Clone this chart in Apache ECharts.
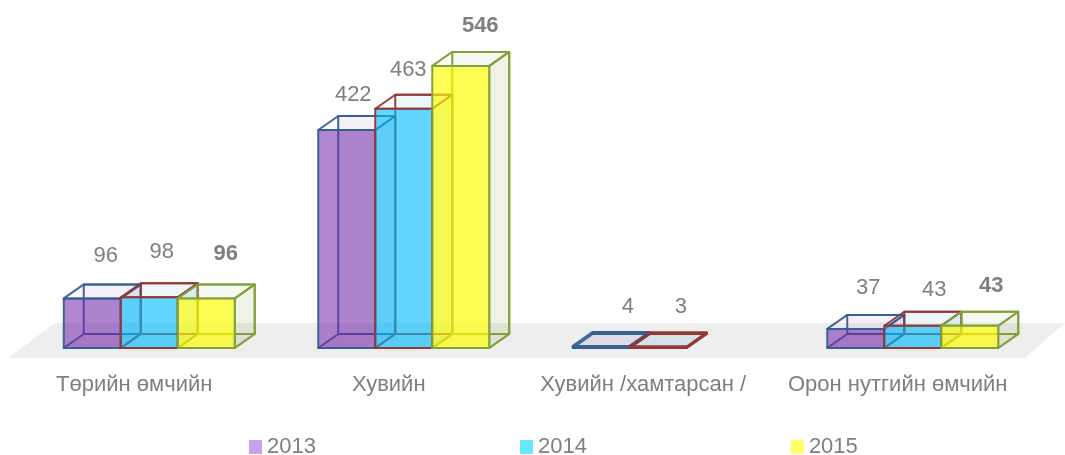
<!DOCTYPE html>
<html><head><meta charset="utf-8">
<style>html,body{margin:0;padding:0;background:#fff}#c{width:1065px;height:455px}</style>
<script src="https://cdn.jsdelivr.net/npm/echarts@6/dist/echarts.min.js"></script>
</head><body><div id="c"></div>
<script>
const categories = ['Төрийн өмчийн', 'Хувийн', 'Хувийн /хамтарсан /', 'Орон нутгийн өмчийн'];
const years = ['2013', '2014', '2015'];
const values2013 = [96, 422, 4, 37];
const values2014 = [98, 463, 3, 43];
const values2015 = [96, 546, null, 43];

const looks = [
  {front:'rgba(112,40,170,0.56)', tint:'rgba(112,48,160,', edge:'rgba(55,96,146,0.95)', legend:'#c9a0ea', bold:false,
   nudge:[[12.5,-43],[5.5,-36],[25.5,-40],[11.5,-42]]},
  {front:'rgba(0,190,255,0.6)', tint:'rgba(0,130,190,', edge:'rgba(149,55,53,0.95)', legend:'#66e6ff', bold:false,
   nudge:[[11.5,-46],[3.5,-40],[21.5,-40.5],[20.5,-37]]},
  {front:'rgba(255,255,0,0.66)', tint:'rgba(134,150,50,', edge:'rgba(130,160,62,0.98)', legend:'#ffff66', bold:true,
   nudge:[[18.5,-45],[18.5,-41],[0,-40],[20.5,-41]]}
];
const BAR_SHARE = 57 / 254.5, DX = 20, DY = 14;

function box(sIdx) {
  const look = looks[sIdx];
  return function (params, api) {
    const v = api.value(1);
    if (v == null || isNaN(v)) return;
    const cat = api.value(0);
    const base = api.coord([cat, 0]);
    const top = api.coord([cat, v]);
    const w = api.size([1, 0])[0] * BAR_SHARE;
    const x0 = base[0] + (sIdx - 1.5) * w;
    const x1 = x0 + w;
    const yb = base[1], yt = top[1];
    const face = (pts, fill, z) => ({
      type: 'polygon', z2: z, shape: {points: pts},
      style: {fill, stroke: look.edge, lineWidth: 2, lineJoin: 'round'}
    });
    const [nx, ny] = look.nudge[cat];
    return {type: 'group', children: [
      face([[x0+DX,yt-DY],[x1+DX,yt-DY],[x1+DX,yb-DY],[x0+DX,yb-DY]], look.tint+'0.04)', 1),
      face([[x0,yb],[x1,yb],[x1+DX,yb-DY],[x0+DX,yb-DY]], look.tint+'0.07)', 2),
      face([[x1,yt],[x1+DX,yt-DY],[x1+DX,yb-DY],[x1,yb]], look.tint+'0.09)', 3),
      face([[x0,yt],[x1,yt],[x1+DX,yt-DY],[x0+DX,yt-DY]], look.tint+'0.03)', 4),
      face([[x0,yt],[x1,yt],[x1,yb],[x0,yb]], look.front, 5),
      {type: 'text', z2: 9, style: {
        text: String(v), x: (x0+x1)/2 + nx + 1, y: yt + ny + 1, align: 'center', verticalAlign: 'middle',
        fill: '#7f7f7f', font: (look.bold ? 'bold ' : '') + '22px "Liberation Sans", Arial, sans-serif'
      }}
    ]};
  };
}

const seriesValues = [values2013, values2014, values2015];
const chart = echarts.init(document.getElementById('c'), null, {renderer: 'canvas'});
chart.setOption({
  animation: false,
  backgroundColor: '#fff',
  grid: {left: 22, width: 1018, top: 38, height: 310},
  xAxis: {type: 'category', data: categories,
    axisLine: {show: false}, axisTick: {show: false}, splitLine: {show: false},
    axisLabel: {color: '#7f7f7f', fontSize: 22, fontFamily: '"Liberation Sans", Arial, sans-serif', margin: 26, padding: [0, 30, 0, 0], interval: 0}},
  yAxis: {type: 'value', min: 0, max: 600, show: false},
  legend: {data: years, left: 244, top: 431, itemWidth: 13, itemHeight: 14, itemGap: 204, icon: 'rect',
    textStyle: {color: '#7f7f7f', fontSize: 22, fontFamily: '"Liberation Sans", Arial, sans-serif'}},
  graphic: [{type: 'polygon', z: 0, silent: true,
    shape: {points: [[8,358],[55,323],[1065,323],[1025,358]]}, style: {fill: '#eeeeee'}}],
  series: years.map((y, s) => ({
    type: 'custom', name: y, z: 2 + s,
    itemStyle: {color: looks[s].legend},
    encode: {x: 0, y: 1},
    renderItem: box(s),
    data: seriesValues[s].map((v, i) => [i, v])
  }))
});
</script></body></html>
